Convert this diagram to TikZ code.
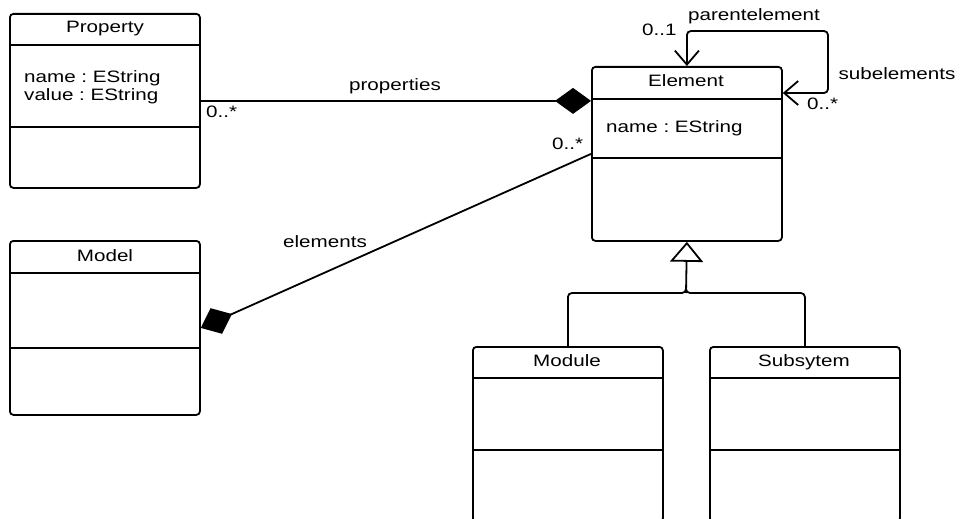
\documentclass[tikz,border=0pt]{standalone}
\usepackage{fontspec}
\setmainfont{Liberation Sans}
\usepackage{graphicx}
\usetikzlibrary{arrows.meta,backgrounds,calc}
\newcommand{\sxt}[1]{\scalebox{1.25}[1]{#1}}
\frenchspacing
\begin{document}
\begin{tikzpicture}[x=1pt,y=-1pt,
  cls/.style={draw, line width=1.8pt, rounded corners=3.5pt, fill=white, anchor=north west, inner sep=0pt, minimum width=190pt},
  sepline/.style={line width=1.5pt},
  txt/.style={font=\fontsize{16.5}{19}\selectfont, inner sep=0pt},
  assoc/.style={line width=1.8pt},
  vbarb/.tip={Straight Barb[length=14pt,width=24pt]},
]
\useasboundingbox (0,0) rectangle (961,519);

% classes
\node[cls, minimum height=174pt] (prop) at (9,13) {};
\node[cls, minimum height=174pt] (model) at (9,240) {};
\node[cls, minimum height=174pt] (elem) at (591,66) {};
\node[cls, minimum height=175pt] (mod) at (472,346) {};
\node[cls, minimum height=175pt] (sub) at (709,346) {};

% compartment separators
\draw[sepline] (prop.west |- 0,45) -- (prop.east |- 0,45);
\draw[sepline] (prop.west |- 0,127) -- (prop.east |- 0,127);
\draw[sepline] (model.west |- 0,273) -- (model.east |- 0,273);
\draw[sepline] (model.west |- 0,348) -- (model.east |- 0,348);
\draw[sepline] (elem.west |- 0,99) -- (elem.east |- 0,99);
\draw[sepline] (elem.west |- 0,158) -- (elem.east |- 0,158);
\draw[sepline] (mod.west |- 0,378) -- (mod.east |- 0,378);
\draw[sepline] (mod.west |- 0,450) -- (mod.east |- 0,450);
\draw[sepline] (sub.west |- 0,378) -- (sub.east |- 0,378);
\draw[sepline] (sub.west |- 0,450) -- (sub.east |- 0,450);

% class texts
\node[txt, anchor=base] (tprop) at (105,33) {\sxt{Property}};
\node[txt, anchor=base west] (aprop1) at (24,82) {\sxt{name : EString}};
\node[txt, anchor=base west] (aprop2) at (24,100) {\sxt{value : EString}};
\node[txt, anchor=base] (tmodel) at (105,261) {\sxt{Model}};
\node[txt, anchor=base] (telem) at (686,86) {\sxt{Element}};
\node[txt, anchor=base west] (aelem) at (606,132) {\sxt{name : EString}};
\node[txt, anchor=base] (tmod) at (567,366) {\sxt{Module}};
\node[txt, anchor=base] (tsub) at (804,366) {\sxt{Subsytem}};

% connector labels
\node[txt, anchor=base] (lprops) at (395,91) {\sxt{properties}};
\node[txt, anchor=base west] (mprops) at (206,117) {\sxt{0..*}};
\node[txt, anchor=base] (lelems) at (325,247) {\sxt{elements}};
\node[txt, anchor=base west] (melems) at (552,149) {\sxt{0..*}};
\node[txt, anchor=base west] (mparent) at (642,36) {\sxt{0..1}};
\node[txt, anchor=base] (lparent) at (754,21) {\sxt{parentelement}};
\node[txt, anchor=base] (lsub) at (897,80) {\sxt{subelements}};
\node[txt, anchor=base west] (msub) at (807,110) {\sxt{0..*}};

\coordinate (p2) at (828,31);
\coordinate (sa) at ($(elem.north east)+(0,27)$);
\coordinate (j) at (686,293);

\begin{scope}[on background layer]
\draw[line width=1.3pt, -{Diamond[length=36pt,width=26pt]}] (prop.east) -- (prop.east -| elem.west);
\draw[assoc, {Diamond[length=34pt,width=28pt]}-] (model.east) -- (elem.west);
\draw[assoc, rounded corners=4pt, vbarb-vbarb] (elem.north) |- (p2) |- (sa);
\draw[assoc, rounded corners=4pt] (mod.north) |- (j) -- ++(0,-8);
\draw[assoc, rounded corners=4pt] (sub.north) |- (j) -- ++(0,-8);
\draw[assoc, -{Triangle[length=20pt,width=33pt,fill=white]}] (j) -- (elem.south);
\end{scope}
\end{tikzpicture}
\end{document}
